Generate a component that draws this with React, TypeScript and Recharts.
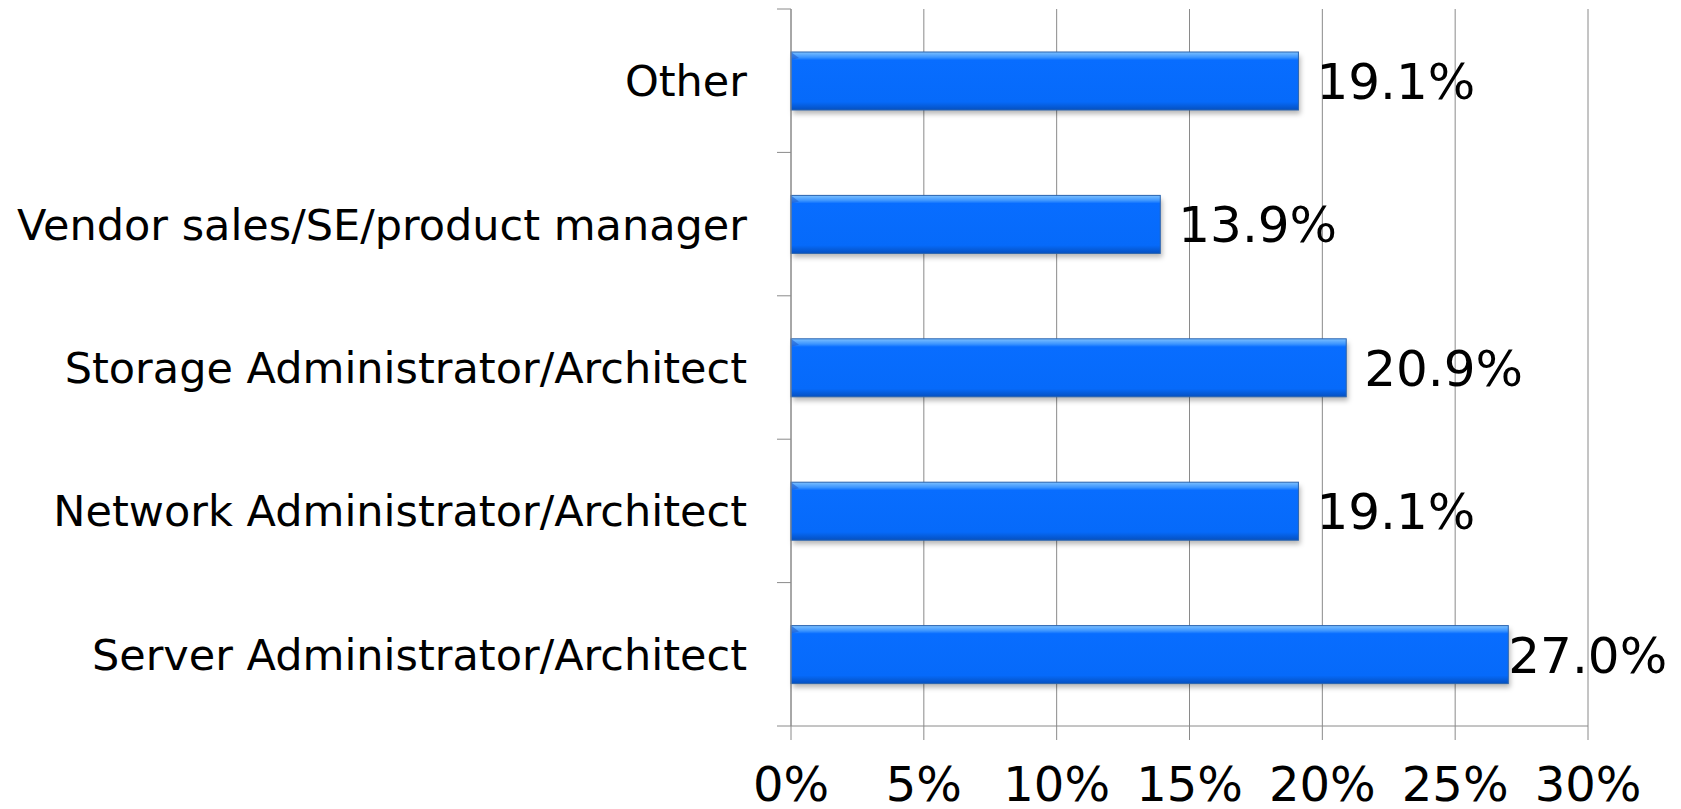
import React from 'react'
import { BarChart, Bar, XAxis, YAxis, CartesianGrid, LabelList } from 'recharts'

const CATEGORIES = [
  'Other',
  'Vendor sales/SE/product manager',
  'Storage Administrator/Architect',
  'Network Administrator/Architect',
  'Server Administrator/Architect',
]
const SHARES = [19.1, 13.9, 20.9, 19.1, 27.0]
const X_TICKS = [0, 5, 10, 15, 20, 25, 30]

const data = CATEGORIES.map((name, i) => ({ name, share: SHARES[i] }))

const CHART_W = 1681
const CHART_H = 809
const MARGIN = { top: 9, right: 93, bottom: 0, left: 0 }
const YAXIS_W = 791
const XAXIS_H = 83
const FONT = '"DejaVu Sans", Verdana, sans-serif'
const AXIS_GRAY = '#8a8a8a'
const TICK_LEN = 14
const LABEL_SIZE = 50

const BAND = (CHART_H - MARGIN.top - MARGIN.bottom - XAXIS_H) / CATEGORIES.length

function CategoryTick(props: any) {
  const { y, payload, index } = props
  const ax = YAXIS_W
  const top = y - BAND / 2
  return (
    <g>
      <line x1={ax - TICK_LEN} y1={top} x2={ax} y2={top} stroke={AXIS_GRAY} strokeWidth={1} />
      {index === CATEGORIES.length - 1 && (
        <line x1={ax - TICK_LEN} y1={y + BAND / 2} x2={ax} y2={y + BAND / 2} stroke={AXIS_GRAY} strokeWidth={1} />
      )}
      <text
        x={ax - 44}
        y={y}
        dy="0.36em"
        textAnchor="end"
        fontFamily={FONT}
        fontSize={43}
        fill="#000"
      >
        {payload.value}
      </text>
    </g>
  )
}

// value label to the right of the bar; pulled back onto the bar end when it would run off the chart
function ValueLabel(props: any) {
  const { x, y, width, height, value } = props
  const text = `${Number(value).toFixed(1)}%`
  const estW = LABEL_SIZE * 3.2
  const end = x + width
  let lx = end + 18
  if (lx + estW > CHART_W - 20) lx = end
  return (
    <text
      x={lx}
      y={y + height / 2}
      dy="0.36em"
      fontFamily={FONT}
      fontSize={LABEL_SIZE}
      fill="#000"
    >
      {text}
    </text>
  )
}

function BevelBar(props: any) {
  const { x, y, width, height, index } = props
  if (!width || width <= 0) return null
  const gid = `bevel-${index}`
  const fid = `shadow-${index}`
  return (
    <g>
      <defs>
        <linearGradient id={gid} x1="0" y1="0" x2="0" y2="1">
          <stop offset="0%" stopColor="#7cc0ff" />
          <stop offset="9%" stopColor="#3c95ff" />
          <stop offset="14%" stopColor="#086dff" />
          <stop offset="86%" stopColor="#066afa" />
          <stop offset="100%" stopColor="#0550c0" />
        </linearGradient>
        <filter id={fid} x="-5%" y="-30%" width="110%" height="160%">
          <feGaussianBlur stdDeviation="2.5" />
        </filter>
      </defs>
      <rect x={x + 2} y={y + 4} width={width} height={height} fill="rgba(0,0,0,0.28)" filter={`url(#${fid})`} />
      <rect x={x} y={y} width={width} height={height} fill={`url(#${gid})`} stroke="#2a64b0" strokeWidth={1} />
      <polygon points={`${x},${y} ${x + 8},${y + 6} ${x},${y + 8}`} fill="#1f5fd0" opacity={0.6} />
    </g>
  )
}

export default function App() {
  return (
    <div style={{ position: 'absolute', left: 0, top: 0, background: '#fff' }}>
      <BarChart width={CHART_W} height={CHART_H} data={data} layout="vertical" margin={MARGIN} barSize={58}>
        <CartesianGrid horizontal={false} stroke={AXIS_GRAY} strokeWidth={1} />
        <XAxis
          type="number"
          domain={[0, 30]}
          ticks={X_TICKS}
          tickFormatter={(v: number) => `${v}%`}
          height={XAXIS_H}
          axisLine={{ stroke: AXIS_GRAY }}
          tickLine={{ stroke: AXIS_GRAY }}
          tickSize={TICK_LEN}
          tickMargin={27}
          tick={{ fill: '#000', fontSize: 48, fontFamily: FONT }}
          interval={0}
        />
        <YAxis
          type="category"
          dataKey="name"
          width={YAXIS_W}
          axisLine={{ stroke: AXIS_GRAY }}
          tickLine={false}
          tick={<CategoryTick />}
          interval={0}
        />
        <Bar dataKey="share" shape={<BevelBar />} isAnimationActive={false}>
          <LabelList dataKey="share" content={<ValueLabel />} />
        </Bar>
      </BarChart>
    </div>
  )
}
